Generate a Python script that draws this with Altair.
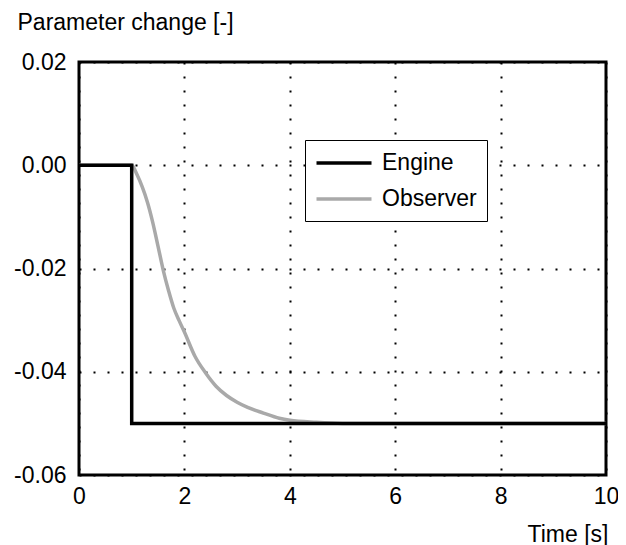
import altair as alt
import pandas as pd

# ---- data ----
engine_time = [0.0, 1.0, 1.0, 10.0]
engine_value = [0.0, 0.0, -0.05, -0.05]

observer_time = [0.0, 1.0, 1.1, 1.2, 1.3, 1.4, 1.5, 1.6, 1.7, 1.8, 1.9, 2.0,
                 2.2, 2.4, 2.6, 2.8, 3.0, 3.2, 3.5, 3.8, 4.0, 4.5, 5.0, 6.0, 10.0]
observer_value = [0.0, 0.0, -0.0018, -0.0042, -0.0072, -0.0111, -0.0157, -0.0204,
                  -0.0243, -0.0277, -0.0301, -0.0323,
                  -0.0370, -0.0402, -0.0428, -0.0446, -0.0459, -0.0469, -0.0480,
                  -0.0490, -0.0494, -0.0498, -0.0500, -0.0500, -0.0500]

series_names = ["Engine", "Observer"]
series_colors = ["#000000", "#a9a9a9"]
x_ticks = [0, 2, 4, 6, 8, 10]
y_ticks = [-0.06, -0.04, -0.02, 0.0, 0.02]

engine_df = pd.DataFrame({"t": engine_time, "v": engine_value,
                          "s": "Engine", "i": list(range(len(engine_time)))})
observer_df = pd.DataFrame({"t": observer_time, "v": observer_value,
                            "s": "Observer", "i": list(range(len(observer_time)))})

FONT = "Liberation Sans"
FS = 23

x_enc = alt.X("t:Q", scale=alt.Scale(domain=[0, 10], nice=False),
              axis=alt.Axis(values=x_ticks, format="d", title="Time [s]",
                            titleX=529, titleY=66.5, titleAlign="right",
                            titleBaseline="alphabetic", titleAnchor="start",
                            ticks=False, tickSize=0, labelPadding=10, labelFlush=False,
                            domain=False, grid=True, gridDash=[2, 12],
                            gridColor="black", gridWidth=2, gridOpacity=1))
y_enc = alt.Y("v:Q", scale=alt.Scale(domain=[-0.06, 0.02], nice=False, zero=False),
              axis=alt.Axis(values=y_ticks, title="Parameter change [-]",
                            labelExpr="datum.value < -0.000001 ? '-' + format(-datum.value, '.2f') : format(abs(datum.value), '.2f')",
                            titleAngle=0, titleX=-62, titleY=-33, titleAlign="left",
                            titleBaseline="alphabetic", titleAnchor="start",
                            ticks=False, tickSize=0, labelPadding=13, labelFlush=False,
                            domain=False, grid=True, gridDash=[2, 12],
                            gridColor="black", gridWidth=2, gridOpacity=1))
color_enc = alt.Color("s:N", scale=alt.Scale(domain=series_names, range=series_colors),
                      legend=alt.Legend(orient="none", legendX=226, legendY=78, title=None,
                                        symbolType="M-2.5,0H2.5", symbolSize=484,
                                        symbolStrokeWidth=3.5, symbolOffset=16,
                                        labelOffset=25, labelFontSize=FS, labelFont=FONT,
                                        labelExpr="datum.label + ' '",
                                        labelColor="black", labelLimit=0,
                                        padding=10, rowPadding=11,
                                        strokeColor="black", fillColor="white"))

observer = alt.Chart(observer_df).mark_line(strokeWidth=3.5, interpolate="monotone").encode(
    x=x_enc, y=y_enc, color=color_enc, order=alt.Order("i:Q"))
engine = alt.Chart(engine_df).mark_line(strokeWidth=3.5).encode(
    x=x_enc, y=y_enc, color=color_enc, order=alt.Order("i:Q"))

chart = alt.layer(observer, engine).properties(
    width=527, height=413,
    autosize=alt.AutoSizeParams(type="none"),
    padding={"left": 71, "top": 54, "right": 12, "bottom": 70},
    background="white",
).configure_view(stroke="black", strokeWidth=3).configure_axis(
    labelFont=FONT, titleFont=FONT, labelFontSize=FS, titleFontSize=FS,
    labelColor="black", titleColor="black", titleFontWeight="normal"
)

chart.save("out.html", embed_options={"renderer": "svg", "actions": False})
